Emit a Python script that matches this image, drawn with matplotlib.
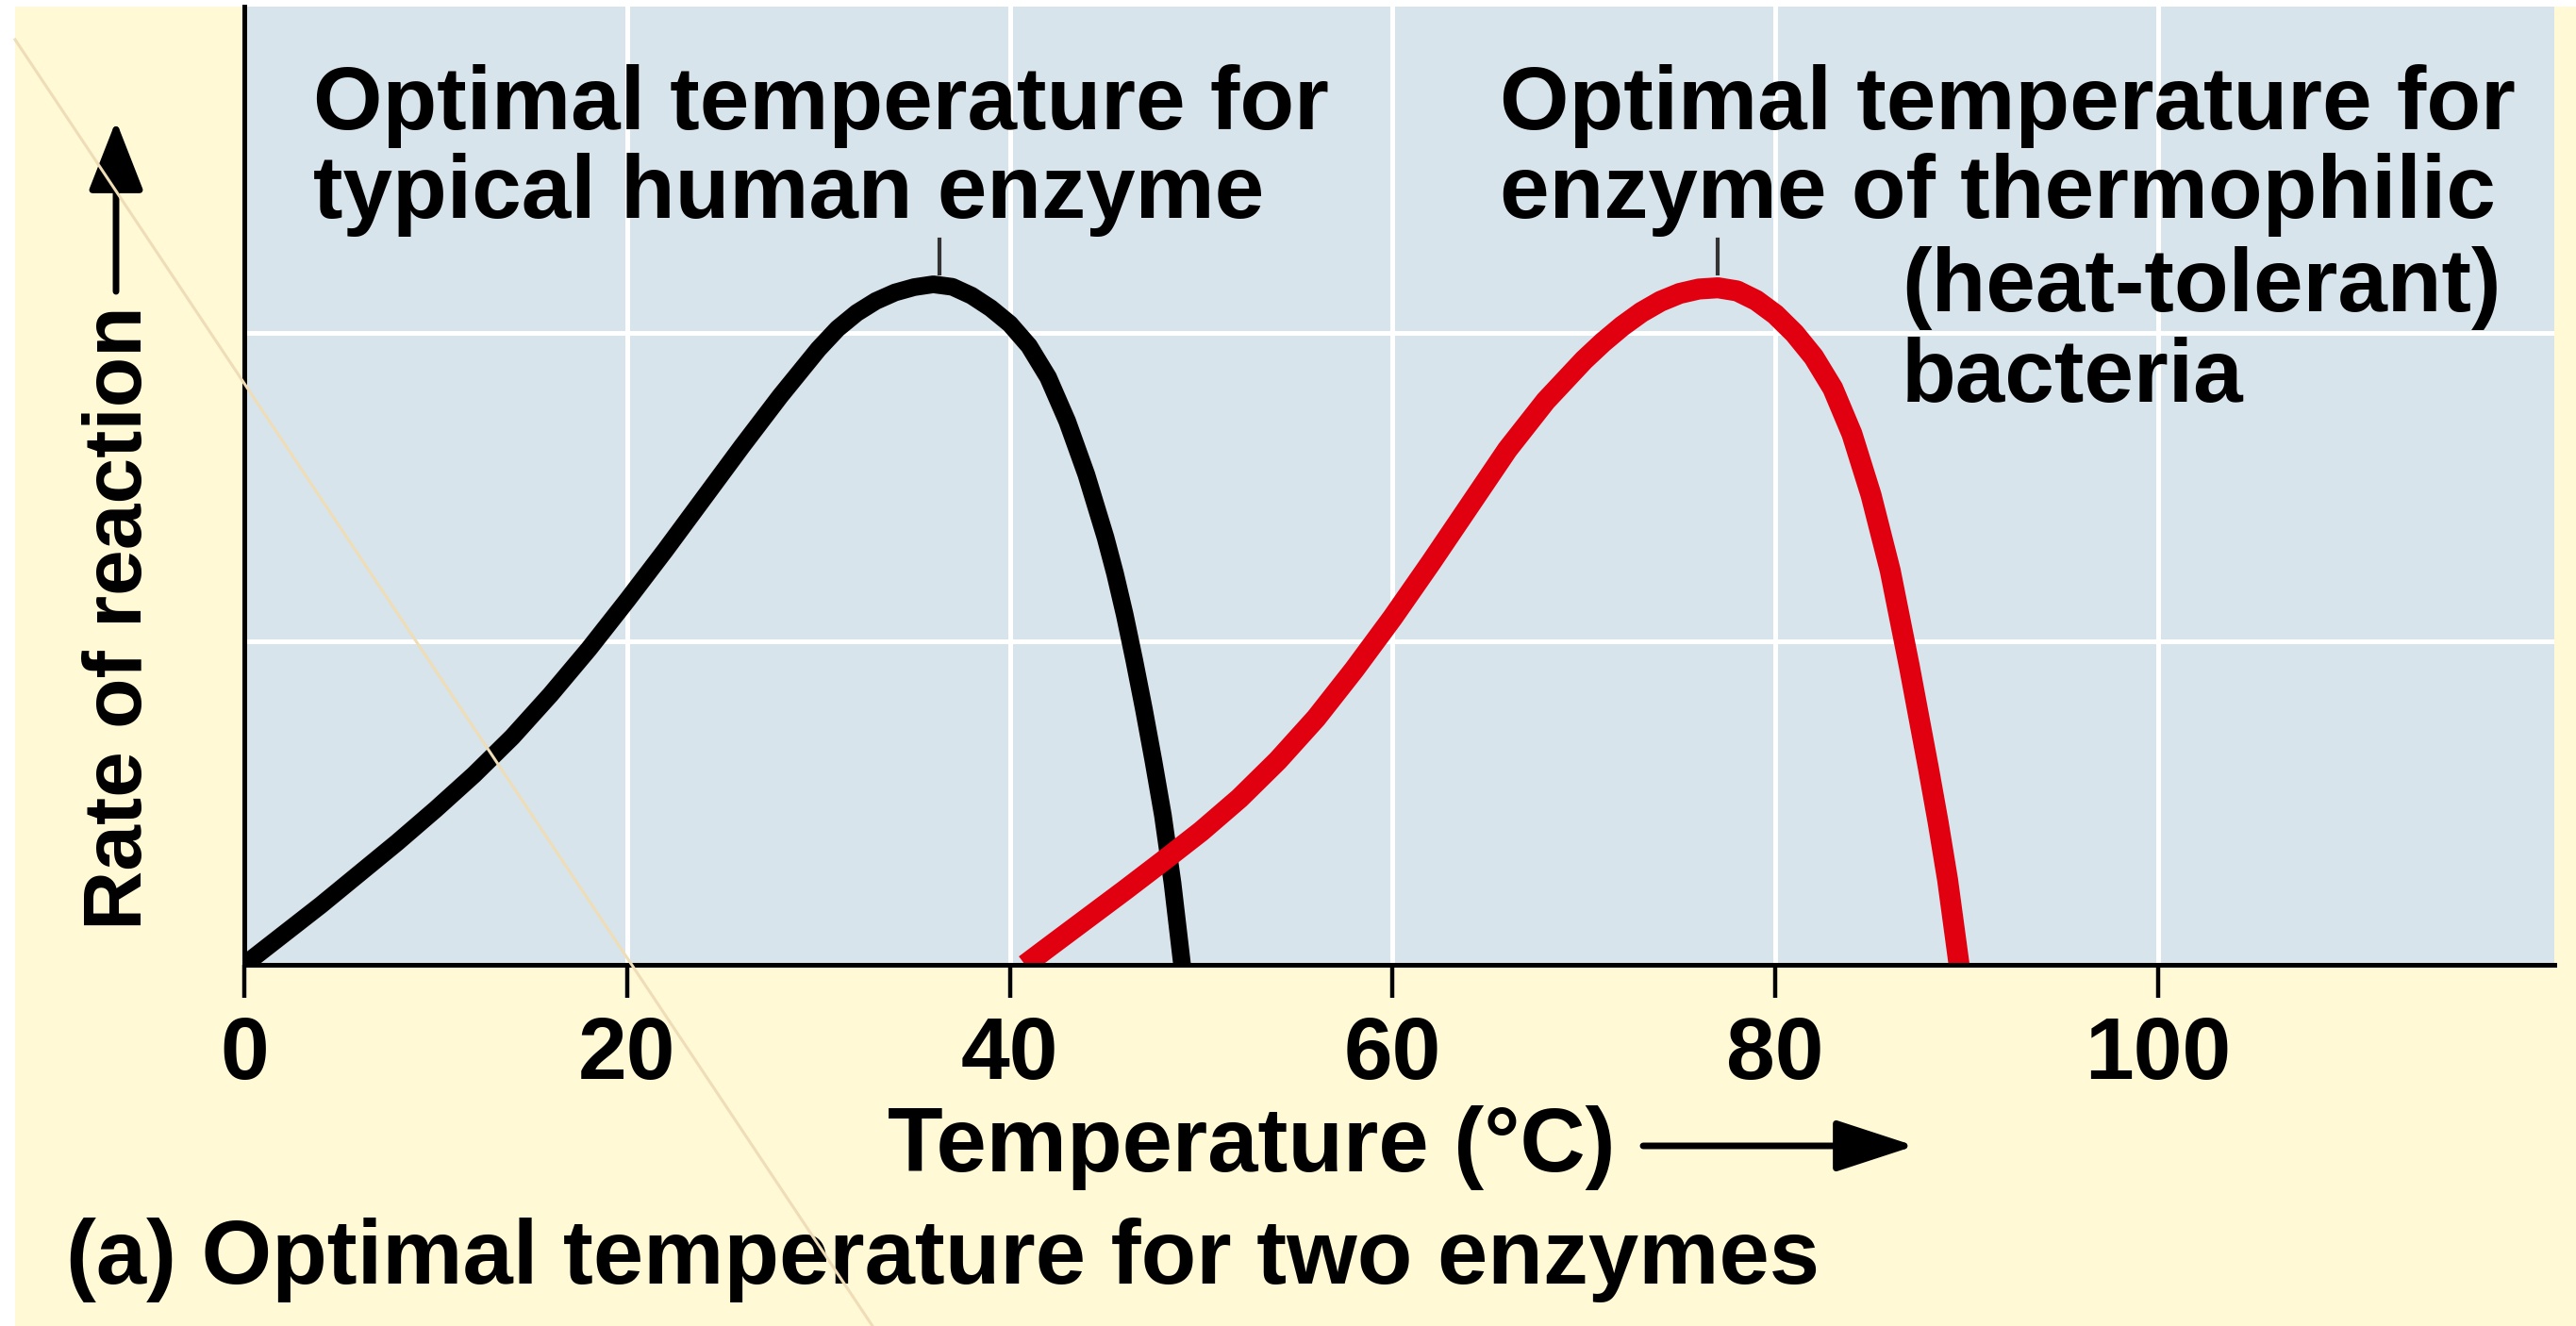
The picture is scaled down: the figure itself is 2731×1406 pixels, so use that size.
import matplotlib
matplotlib.use("Agg")
import matplotlib.pyplot as plt
from matplotlib.lines import Line2D
from matplotlib.patches import Rectangle

# ---------------- data ----------------
human_temp = [0, 2, 4, 6, 8, 10, 12, 14, 16, 18, 20, 22, 24, 26, 28, 30, 31, 32, 33,
              34, 35, 36, 37, 38, 39, 40, 41, 42, 43, 44, 45, 45.5, 46, 46.5, 47,
              47.5, 48, 48.5, 49.0]
human_rate = [0.00, 0.095, 0.19, 0.29, 0.39, 0.495, 0.605, 0.725, 0.86, 1.005, 1.16,
              1.32, 1.485, 1.65, 1.81, 1.96, 2.025, 2.075, 2.113, 2.14, 2.157, 2.166,
              2.158, 2.13, 2.09, 2.04, 1.97, 1.87, 1.73, 1.56, 1.36, 1.245, 1.115,
              0.97, 0.815, 0.65, 0.475, 0.26, 0.0]

thermo_temp = [40.8, 42, 44, 46, 48, 50, 52, 54, 56, 58, 60, 62, 64, 66, 68, 70, 71,
               72, 73, 74, 75, 76, 77, 78, 79, 80, 81, 82, 83, 84, 85, 86, 87, 88,
               88.5, 89, 89.6]
thermo_rate = [0.0, 0.055, 0.146, 0.237, 0.33, 0.425, 0.53, 0.65, 0.785, 0.94, 1.105,
               1.28, 1.46, 1.64, 1.795, 1.925, 1.982, 2.033, 2.077, 2.112, 2.137,
               2.151, 2.155, 2.145, 2.115, 2.07, 2.01, 1.935, 1.835, 1.69, 1.495,
               1.255, 0.95, 0.625, 0.455, 0.27, 0.0]

peak_temps = [36.3, 77.0]
peak_marker = [2.20, 2.31]

x_ticks = [0, 20, 40, 60, 80, 100]
x_tick_labels = ["0", "20", "40", "60", "80", "100"]
y_grid = [1.03, 2.01]

human_label = ["Optimal temperature for", "typical human enzyme"]
thermo_label = ["Optimal temperature for", "enzyme of thermophilic",
                "(heat-tolerant)", "bacteria"]
x_label = "Temperature (°C)"
y_label = "Rate of reaction"
caption = "(a) Optimal temperature for two enzymes"

# ---------------- style ----------------
YELLOW = "#FFF9D6"
BLUE = "#D8E4EC"
RED = "#E1000F"
TAN = "#EEDDB6"

plt.rcParams["font.family"] = ["Liberation Sans", "DejaVu Sans"]
plt.rcParams["font.weight"] = "bold"

W, H = 2731, 1406
fig = plt.figure(figsize=(W / 100, H / 100), dpi=100)
fig.patch.set_facecolor(YELLOW)


def fx(px):
    return px / W


def fy(py):
    return 1 - py / H


# white border strips (left and top)
fig.add_artist(Rectangle((0, 0), fx(16), 1, transform=fig.transFigure,
                         facecolor="white", edgecolor="none", zorder=0))
fig.add_artist(Rectangle((0, fy(7)), 1, 1 - fy(7), transform=fig.transFigure,
                         facecolor="white", edgecolor="none", zorder=0))

ax = fig.add_axes([fx(259), fy(1023), fx(2708) - fx(259), fy(7) - fy(1023)])
ax.set_facecolor(BLUE)
ax.set_xlim(0, 120.7)
ax.set_ylim(0, 3.05)

ax.set_xticks(x_ticks)
ax.set_xticklabels(x_tick_labels)
ax.set_yticks(y_grid)
ax.set_yticklabels([])
ax.tick_params(axis="y", length=0)
ax.tick_params(axis="x", length=25, width=3.2, pad=14, labelsize=67,
               direction="out", color="black")
ax.grid(True, color="white", linewidth=3.6)
ax.set_axisbelow(True)

for s in ["top", "right"]:
    ax.spines[s].set_visible(False)
for s in ["left", "bottom"]:
    ax.spines[s].set_linewidth(3.6)
    ax.spines[s].set_color("black")
    ax.spines[s].set_zorder(5)

ax.plot(human_temp, human_rate, color="black", lw=13.5,
        solid_joinstyle="round", solid_capstyle="butt", zorder=3)
ax.plot(thermo_temp, thermo_rate, color=RED, lw=16,
        solid_joinstyle="round", solid_capstyle="butt", zorder=3)

for t in peak_temps:
    ax.plot([t, t], peak_marker, color="#333333", lw=3, zorder=4)

# ---------------- annotation texts ----------------
fs = 68
for i, line in enumerate(human_label):
    fig.text(fx(332), fy([137, 231][i]), line, fontsize=fs, ha="left",
             va="baseline")
thermo_pos = [(1590, 137), (1590, 231), (2016, 330), (2016, 426)]
for line, (px, py) in zip(thermo_label, thermo_pos):
    fig.text(fx(px), fy(py), line, fontsize=fs, ha="left", va="baseline")

# x label + arrow
fig.text(fx(941), fy(1242), x_label, fontsize=69, ha="left", va="baseline")
ax.annotate("", xy=(fx(2030), fy(1215)), xytext=(fx(1742), fy(1215)),
            xycoords="figure fraction", textcoords="figure fraction",
            arrowprops=dict(arrowstyle="-|>,head_length=52,head_width=17",
                            mutation_scale=1, lw=5, color="black",
                            shrinkA=0, shrinkB=0))

# y label + arrow
fig.text(fx(150), fy(986), y_label, fontsize=63, rotation=90,
         rotation_mode="anchor", ha="left", va="baseline")
ax.annotate("", xy=(fx(123), fy(128)), xytext=(fx(123), fy(309)),
            xycoords="figure fraction", textcoords="figure fraction",
            arrowprops=dict(arrowstyle="-|>,head_length=46,head_width=18",
                            mutation_scale=1, lw=5, color="black",
                            shrinkA=0, shrinkB=0))

# caption
fig.text(fx(70), fy(1361), caption, fontsize=69, ha="left", va="baseline")

# faint diagonal artifact line
fig.add_artist(Line2D([fx(16), fx(925)], [fy(42), fy(1406)],
                      transform=fig.transFigure, color=TAN, lw=2.2, zorder=10))

fig.savefig("out.png", dpi=100, facecolor=fig.get_facecolor())
